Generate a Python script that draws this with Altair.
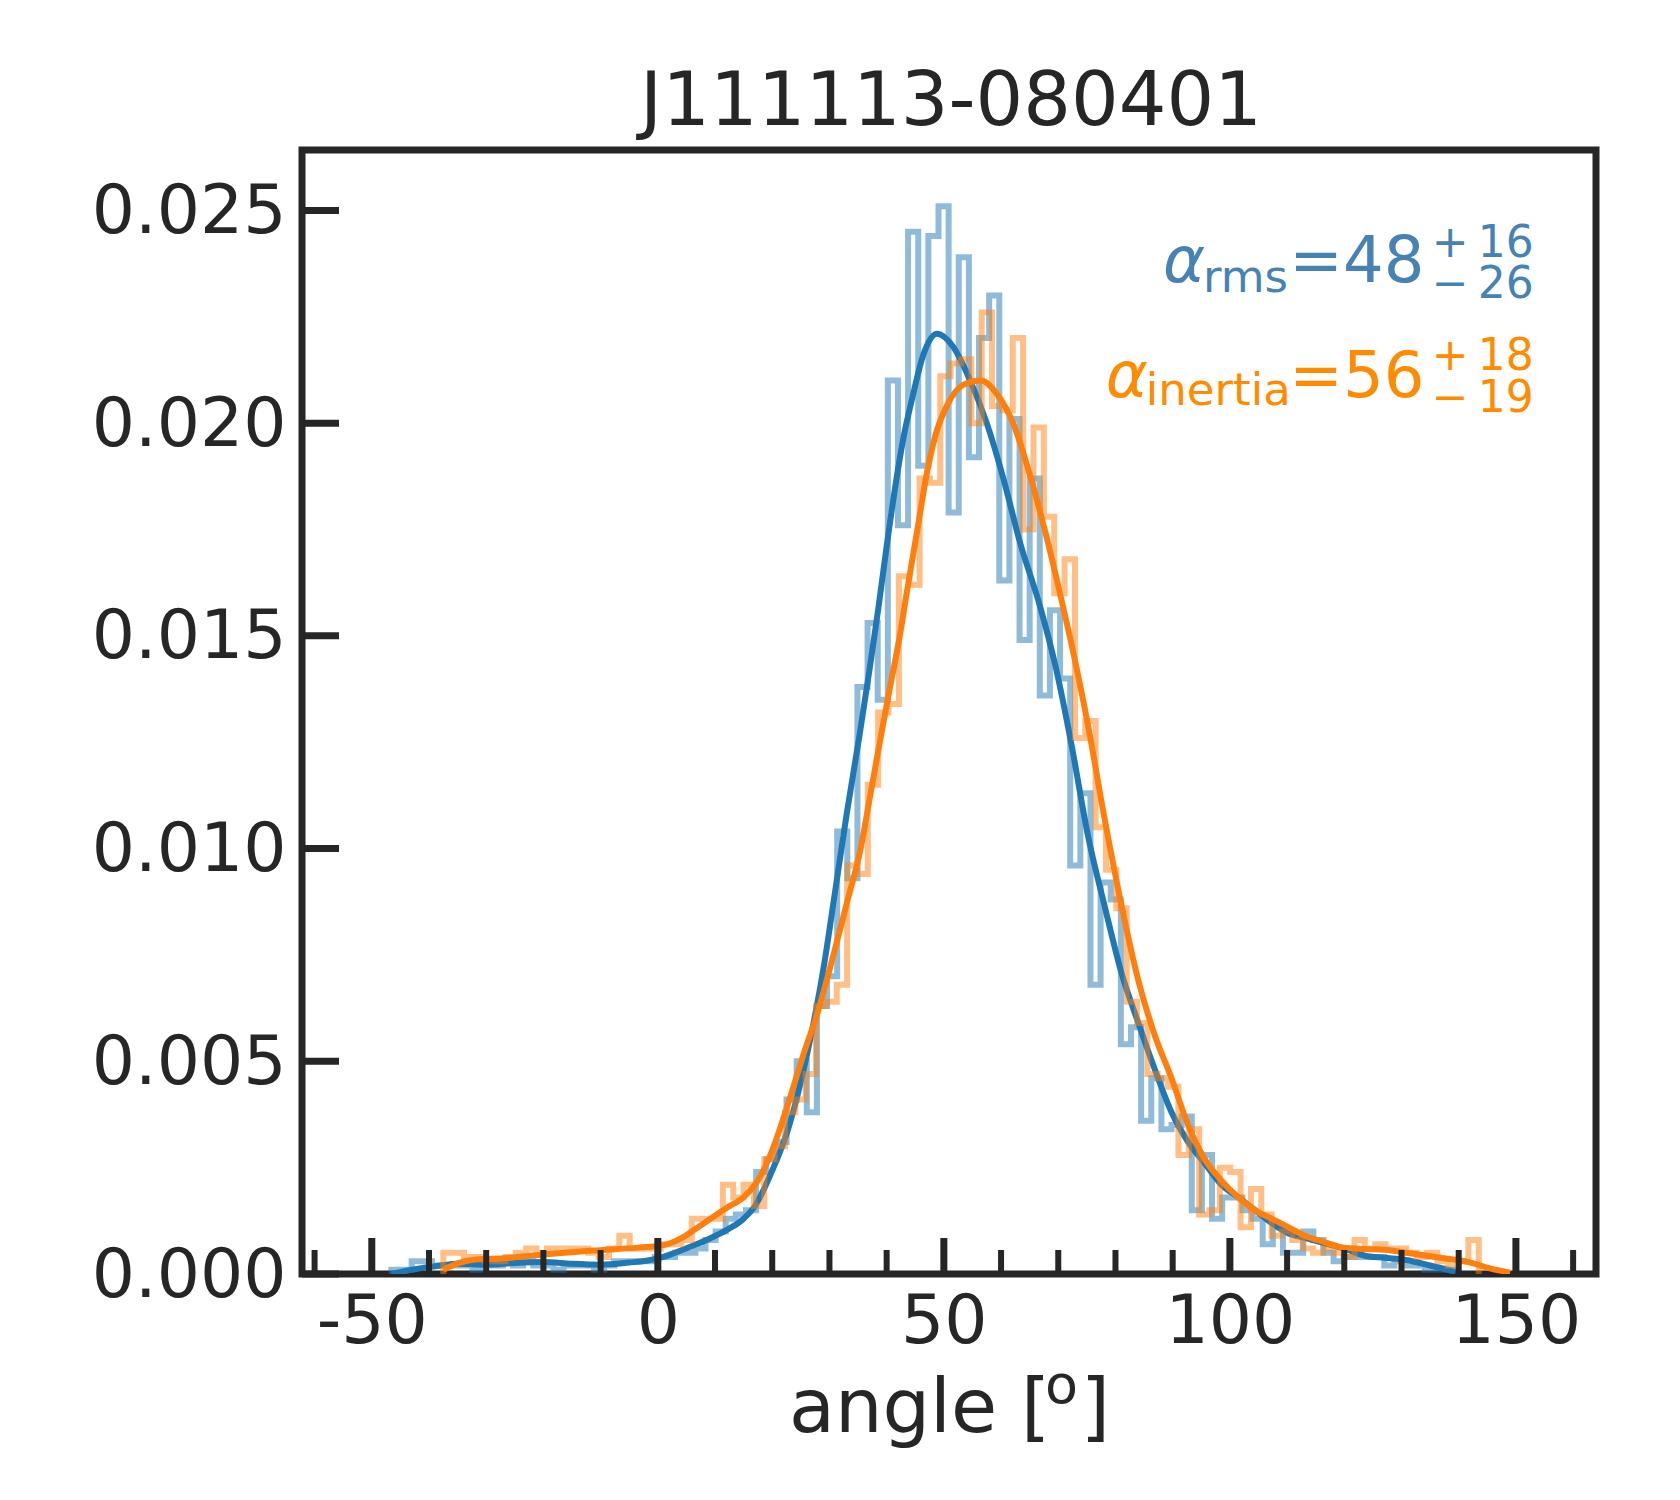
import altair as alt
import pandas as pd

TITLE = "J111113-080401"
XLABEL_PARTS = ["angle [", "o", "]"]
INK = "#262626"
BLUE = "#1f77b4"
ORANGE = "#ff7f0e"

# ---- alpha_rms step histogram (density), 105 bins starting at -46.57, width 1.771
RMS_BIN_START = -46.57
RMS_BIN_WIDTH = 1.771
rms_hist = [
    0.0001, 0.0001, 0.0003, 0.0003, 0.0002, 0.0002, 0.0002, 0.0002, 0.0001, 0.0003,
    0.0002, 0.0003, 0.0002, 0.0003, 0.0002, 0.0002, 0.0001, 0.0002, 0.0002, 0.0002,
    0.0001, 0.0002, 0.0003, 0.0003, 0.0003, 0.0003, 0.0004, 0.0004, 0.0005, 0.0005,
    0.0006, 0.0008, 0.0010, 0.0013, 0.0014, 0.0015, 0.0024, 0.0027, 0.0031, 0.0041,
    0.0050, 0.0038, 0.0063, 0.0070, 0.0104, 0.0093, 0.0138, 0.0153, 0.0135, 0.0210,
    0.0176, 0.0245, 0.0190, 0.0244, 0.0251, 0.0179, 0.0239, 0.0192, 0.0220, 0.0230,
    0.0163, 0.0201, 0.0149, 0.0187, 0.0136, 0.0156, 0.0140, 0.0096, 0.0113, 0.0068,
    0.0092, 0.0088, 0.0054, 0.0058, 0.0036, 0.0046, 0.0034, 0.0035, 0.0037, 0.0015,
    0.0028, 0.0013, 0.0018, 0.0018, 0.0015, 0.0013, 0.0007, 0.0011, 0.0005, 0.0005,
    0.0010, 0.0008, 0.0005, 0.0003, 0.0004, 0.0004, 0.0004, 0.0004, 0.0002, 0.0003,
    0.0002, 0.0002, 0.0001, 0.0001, 0.0001,
]

# ---- alpha_inertia step histogram (density), 100 bins starting at -37.5, width 1.81
INERTIA_BIN_START = -37.5
INERTIA_BIN_WIDTH = 1.81
inertia_hist = [
    0.0005, 0.0005, 0.0004, 0.0004, 0.0003, 0.0003, 0.0004, 0.0005, 0.0006, 0.0005,
    0.0006, 0.0006, 0.0006, 0.0006, 0.0005, 0.0004, 0.0006, 0.0009, 0.0006, 0.0006,
    0.0006, 0.0007, 0.0007, 0.0008, 0.0013, 0.0013, 0.0013, 0.0021, 0.0018, 0.0021,
    0.0016, 0.0027, 0.0030, 0.0038, 0.0041, 0.0047, 0.0063, 0.0064, 0.0068, 0.0096,
    0.0094, 0.0115, 0.0132, 0.0134, 0.0164, 0.0162, 0.0187, 0.0186, 0.0211, 0.0214,
    0.0215, 0.0200, 0.0226, 0.0204, 0.0203, 0.0220, 0.0175, 0.0199, 0.0178, 0.0160,
    0.0168, 0.0126, 0.0130, 0.0105, 0.0095, 0.0086, 0.0064, 0.0059, 0.0047, 0.0046,
    0.0044, 0.0028, 0.0034, 0.0014, 0.0015, 0.0025, 0.0024, 0.0011, 0.0020, 0.0014,
    0.0009, 0.0010, 0.0008, 0.0006, 0.0005, 0.0006, 0.0005, 0.0004, 0.0008, 0.0006,
    0.0007, 0.0006, 0.0006, 0.0005, 0.0004, 0.0005, 0.0003, 0.0002, 0.0003, 0.0008,
]

# ---- KDE curves
rms_kde_x = [-46.6, -43, -38, -35, -30, -25, -20, -15, -10, -5, -2, 1, 3, 6, 9, 12, 15, 17,
             19.8, 22.9, 26.0, 29.1, 31.0, 33.0, 35.3, 37.0, 38.5, 40.0, 41.5, 43.0, 44.5,
             46.4, 48.8, 51.6, 54.6, 57.5, 60.4, 63.3, 66.8, 69.5, 72.3, 75.2, 78.1, 81.0,
             84.0, 86.9, 89.8, 92.7, 95.6, 98.5, 101.5, 104.4, 107.3, 110.2, 113.1, 116.3,
             120.0, 123.6, 127.0, 130.8, 135.0, 138.0, 139.4]
rms_kde_y = [0.0, 0.00010, 0.00020, 0.00024, 0.00022, 0.00026, 0.00028, 0.00024, 0.00022,
             0.00027, 0.00031, 0.00040, 0.00050, 0.00066, 0.00083, 0.00103, 0.00130, 0.00160,
             0.00237, 0.00346, 0.00511, 0.00730, 0.00900, 0.01080, 0.01270, 0.01420, 0.01560,
             0.01710, 0.01850, 0.01970, 0.02060, 0.02160, 0.02210, 0.02180, 0.02100, 0.02000,
             0.01870, 0.01720, 0.01570, 0.01430, 0.01245, 0.01030, 0.00865, 0.00710, 0.00590,
             0.00480, 0.00380, 0.00310, 0.00260, 0.00210, 0.00180, 0.00150, 0.00120, 0.00096,
             0.00085, 0.00073, 0.00060, 0.00043, 0.00038, 0.00033, 0.00020, 0.00010, 0.00005]

inertia_kde_x = [-37.5, -35, -32.5, -27, -19, -11.4, -3.4, 1.0, 4.2, 6.5, 8.9, 12.0, 15.1,
                 17.5, 19.8, 21.8, 23.7, 25.8, 27.6, 30.7, 33.2, 35.3, 37.2, 38.8, 40.6, 42.3,
                 43.5, 45.5, 47.0, 48.5, 50.5, 53.4, 56.5, 59.2, 62.1, 65.0, 68.0, 70.3, 72.8,
                 75.2, 78.1, 81.0, 84.0, 86.9, 89.8, 92.7, 95.6, 98.5, 101.5, 104.4, 107.3,
                 110.2, 113.1, 116.5, 119.9, 123.5, 127.2, 130.8, 134.4, 138.0, 141.7, 145.3,
                 149.0]
inertia_kde_y = [0.00010, 0.00025, 0.00033, 0.00037, 0.00047, 0.00055, 0.00062, 0.00068,
                 0.00085, 0.00105, 0.00127, 0.00155, 0.00182, 0.00220, 0.00284, 0.00360,
                 0.00440, 0.00530, 0.00600, 0.00750, 0.00880, 0.00990, 0.01130, 0.01250,
                 0.01380, 0.01500, 0.01600, 0.01760, 0.01880, 0.01970, 0.02040, 0.02090,
                 0.02100, 0.02070, 0.02000, 0.01880, 0.01730, 0.01600, 0.01450, 0.01290,
                 0.01070, 0.00870, 0.00690, 0.00560, 0.00460, 0.00350, 0.00270, 0.00220,
                 0.00180, 0.00150, 0.00130, 0.00110, 0.00090, 0.00075, 0.00062, 0.00059,
                 0.00057, 0.00050, 0.00043, 0.00036, 0.00028, 0.00014, 0.00003]

# ---- ticks
x_major = [-50, 0, 50, 100, 150]
x_minor = [-60, -40, -30, -20, -10, 10, 20, 30, 40, 60, 70, 80, 90,
           110, 120, 130, 140, 160]
y_ticks = [0.0, 0.005, 0.010, 0.015, 0.020, 0.025]

X_DOMAIN = [-62.2, 164.0]
Y_DOMAIN = [0.0, 0.02642]
W, H = 1294, 1124

# ---- annotation pieces (text, x in degrees, y in density units)
ann_text = ["α", "rms", "=48", "+", "16", "−", "26",
            "α", "inertia", "=56", "+", "18", "−", "19"]
ann_kind = ["greek", "sub", "main", "sign", "num", "sign", "num",
            "greek", "sub", "main", "sign", "num", "sign", "num"]
ann_x = [88.3, 95.3, 134.0, 138.5, 153.1, 138.5, 153.1,
         78.3, 85.3, 134.0, 138.5, 153.1, 138.5, 153.1]
ann_y = [0.02332, 0.02309, 0.02332, 0.02391, 0.02391, 0.02294, 0.02294,
         0.02062, 0.02043, 0.02062, 0.02125, 0.02125, 0.02027, 0.02027]
ann_color = ["#4682b4"] * 7 + ["#ff8c00"] * 7


def step_frame(start, width, heights):
    n = len(heights)
    edges = [start + i * width for i in range(n + 1)]
    xs = [edges[0]] + edges[:n] + [edges[n]]
    ys = [0.0] + list(heights) + [0.0]
    return pd.DataFrame({"x": xs, "y": ys, "i": list(range(len(xs)))})


rms_step = step_frame(RMS_BIN_START, RMS_BIN_WIDTH, rms_hist)
inertia_step = step_frame(INERTIA_BIN_START, INERTIA_BIN_WIDTH, inertia_hist)
rms_kde = pd.DataFrame({"x": rms_kde_x, "y": rms_kde_y})
inertia_kde = pd.DataFrame({"x": inertia_kde_x, "y": inertia_kde_y})
major_df = pd.DataFrame({"x": x_major})
minor_df = pd.DataFrame({"x": x_minor})
ytick_df = pd.DataFrame({"y": y_ticks})
ann_df = pd.DataFrame({"t": ann_text, "kind": ann_kind, "x": ann_x, "y": ann_y, "c": ann_color})
title_df = pd.DataFrame({"t": [TITLE]})
xlab_main_df = pd.DataFrame({"t": [XLABEL_PARTS[0]]})
xlab_sup_df = pd.DataFrame({"t": [XLABEL_PARTS[1]]})
xlab_end_df = pd.DataFrame({"t": [XLABEL_PARTS[2]]})

xscale = alt.Scale(domain=X_DOMAIN, nice=False, zero=False)
yscale = alt.Scale(domain=Y_DOMAIN, nice=False, zero=False)

xaxis = alt.Axis(
    values=x_major,
    labelExpr="datum.value < 0 ? '-' + format(-datum.value, 'd') : format(datum.value, 'd')",
    labelFont="DejaVu Sans", labelFontSize=68, labelColor=INK,
    labelBaseline="alphabetic", labelPadding=68, labelFlush=False, labelOverlap=False,
    labelLimit=0,
    ticks=False, tickSize=0, domain=False, grid=False, title=None,
)
yaxis = alt.Axis(
    values=y_ticks, format=".3f",
    labelFont="DejaVu Sans", labelFontSize=68, labelColor=INK,
    labelAlign="right", labelBaseline="middle", labelPadding=16, labelFlush=False,
    labelOverlap=False, labelOffset=2, labelLimit=0,
    ticks=False, tickSize=0, domain=False, grid=False, title=None,
)

rms_hist_layer = alt.Chart(rms_step).mark_line(
    interpolate="step-after", strokeWidth=6, color=BLUE, strokeOpacity=0.5, clip=True
).encode(
    x=alt.X("x:Q", scale=xscale, axis=xaxis),
    y=alt.Y("y:Q", scale=yscale, axis=yaxis),
    order="i:Q",
)
rms_kde_layer = alt.Chart(rms_kde).mark_line(
    interpolate="monotone", strokeWidth=6, color=BLUE, clip=True
).encode(x="x:Q", y="y:Q")

inertia_hist_layer = alt.Chart(inertia_step).mark_line(
    interpolate="step-after", strokeWidth=6, color=ORANGE, strokeOpacity=0.5, clip=True
).encode(x="x:Q", y="y:Q", order="i:Q")
inertia_kde_layer = alt.Chart(inertia_kde).mark_line(
    interpolate="monotone", strokeWidth=6, color=ORANGE, clip=True
).encode(x="x:Q", y="y:Q")

major_ticks = alt.Chart(major_df).mark_rule(color=INK, strokeWidth=7).encode(
    x="x:Q", y=alt.value(H), y2=alt.value(H - 36)
)
minor_ticks = alt.Chart(minor_df).mark_rule(color=INK, strokeWidth=6).encode(
    x="x:Q", y=alt.value(H), y2=alt.value(H - 24)
)
y_tick_marks = alt.Chart(ytick_df).mark_rule(color=INK, strokeWidth=7).encode(
    y="y:Q", x=alt.value(0), x2=alt.value(37)
)

title_mark = alt.Chart(title_df).mark_text(
    font="DejaVu Sans", fontSize=75, align="center", baseline="alphabetic", color=INK
).encode(text="t:N", x=alt.value(W / 2 + 2), y=alt.value(-25))

# x-axis title "angle [°]" with a superscript o, as in the original mathtext
xlab_main = alt.Chart(xlab_main_df).mark_text(
    font="DejaVu Sans", fontSize=75, align="left", baseline="alphabetic", color=INK
).encode(text="t:N", x=alt.value(487), y=alt.value(H + 158))
xlab_sup = alt.Chart(xlab_sup_df).mark_text(
    font="DejaVu Sans", fontSize=54, align="left", baseline="alphabetic", color=INK
).encode(text="t:N", x=alt.value(743), y=alt.value(H + 129))
xlab_end = alt.Chart(xlab_end_df).mark_text(
    font="DejaVu Sans", fontSize=75, align="right", baseline="alphabetic", color=INK
).encode(text="t:N", x=alt.value(808), y=alt.value(H + 158))

base_ann = alt.Chart(ann_df)
greek = base_ann.transform_filter(alt.datum.kind == "greek").mark_text(
    font="DejaVu Sans", fontSize=64, fontStyle="italic", align="left", baseline="alphabetic"
).encode(x="x:Q", y="y:Q", text="t:N", color=alt.Color("c:N", scale=None))
sub = base_ann.transform_filter(alt.datum.kind == "sub").mark_text(
    font="DejaVu Sans", fontSize=45, align="left", baseline="alphabetic"
).encode(x="x:Q", y="y:Q", text="t:N", color=alt.Color("c:N", scale=None))
main = base_ann.transform_filter(alt.datum.kind == "main").mark_text(
    font="DejaVu Sans", fontSize=64, align="right", baseline="alphabetic"
).encode(x="x:Q", y="y:Q", text="t:N", color=alt.Color("c:N", scale=None))
sign = base_ann.transform_filter(alt.datum.kind == "sign").mark_text(
    font="DejaVu Sans", fontSize=44, align="center", baseline="alphabetic"
).encode(x="x:Q", y="y:Q", text="t:N", color=alt.Color("c:N", scale=None))
num = base_ann.transform_filter(alt.datum.kind == "num").mark_text(
    font="DejaVu Sans", fontSize=44, align="right", baseline="alphabetic"
).encode(x="x:Q", y="y:Q", text="t:N", color=alt.Color("c:N", scale=None))

chart = alt.layer(
    rms_hist_layer, rms_kde_layer, inertia_hist_layer, inertia_kde_layer,
    major_ticks, minor_ticks, y_tick_marks,
    greek, sub, main, sign, num, title_mark, xlab_main, xlab_sup, xlab_end,
).properties(
    width=W, height=H,
    padding={"left": 294, "top": 142, "right": 76, "bottom": 218},
    autosize=alt.AutoSizeParams(type="none"),
    background="white",
).configure(
    font="DejaVu Sans"
).configure_view(
    stroke=INK, strokeWidth=7
)

chart.save("out.html", embed_options={"renderer": "svg", "actions": False})
